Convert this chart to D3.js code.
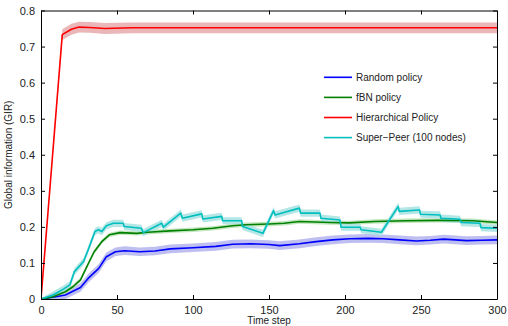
<!DOCTYPE html>
<meta charset="utf-8">
<html>
<head>
<style>
  body { margin: 0; background: #fff; }
  text { font-family: "Liberation Sans", Arial, sans-serif; }
</style>
</head>
<body>
<script src="https://d3js.org/d3.v7.min.js"></script>
<script>

// data (time step, GIR)
var randomPolicy = [[0,0],[8,0.005],[16,0.011],[26,0.032],[31,0.057],[38,0.085],[43,0.117],[49,0.131],[55,0.134],[65,0.131],[75,0.133],[85,0.139],[100,0.142],[115,0.146],[126,0.152],[138,0.153],[150,0.151],[157,0.148],[170,0.153],[181,0.159],[192,0.164],[203,0.167],[215,0.168],[225,0.167],[236,0.164],[247,0.161],[256,0.163],[265,0.166],[280,0.162],[290,0.163],[300,0.164]];
var fbnPolicy = [[0,0],[8,0.006],[16,0.02],[21,0.034],[26,0.053],[31,0.097],[35,0.131],[40,0.159],[45,0.178],[52,0.184],[63,0.182],[70,0.185],[85,0.189],[100,0.192],[113,0.196],[126,0.203],[135,0.206],[150,0.208],[160,0.21],[170,0.215],[190,0.212],[203,0.211],[219,0.215],[240,0.217],[262,0.218],[284,0.217],[300,0.212]];
var hierPolicy = [[0,0],[14,0.733],[20,0.748],[25,0.754],[32,0.753],[42,0.750],[60,0.752],[100,0.752],[150,0.752],[200,0.752],[250,0.752],[300,0.752]];
var superPeer = [[0,0],[8,0.011],[15,0.028],[19,0.039],[22,0.076],[28,0.104],[31,0.136],[35.5,0.187],[37.7,0.192],[40,0.187],[43,0.203],[47.6,0.21],[54,0.21],[54.8,0.201],[66,0.196],[67.3,0.184],[79.4,0.21],[80.5,0.199],[92,0.238],[93,0.224],[105.7,0.236],[106.5,0.222],[118.9,0.229],[119.5,0.217],[132,0.217],[132.6,0.201],[146,0.182],[153,0.245],[154,0.233],[170,0.252],[170.8,0.238],[183.5,0.238],[184.2,0.224],[196.7,0.219],[197.4,0.199],[210,0.199],[210.6,0.192],[224,0.185],[235,0.257],[235.7,0.243],[249,0.247],[249.7,0.235],[262.5,0.233],[263.2,0.224],[275.7,0.221],[276.4,0.212],[288.8,0.21],[289.5,0.198],[300,0.196]];

var seriesNames = ["Random policy", "fBN policy", "Hierarchical Policy", "Super\u2212Peer (100 nodes)"];
var seriesData = [randomPolicy, fbnPolicy, hierPolicy, superPeer];
var spreads = [0.012, 0.006, 0.015, 0.01];
var lineColors = ["#0000ff", "#008000", "#ff0000", "#00bfbf"];
var bandColors = ["#b3b3ee", "#b8e2b3", "#e6a9ab", "#a8e2e2"];

var xTicks = [0, 50, 100, 150, 200, 250, 300];
var yTicks = [0, 0.1, 0.2, 0.3, 0.4, 0.5, 0.6, 0.7, 0.8];

var margin = {top: 10.5, right: 11, bottom: 27, left: 41},
  width = 508 - margin.left - margin.right,
  height = 326 - margin.top - margin.bottom;

var svg = d3.select("body").append("svg")
  .attr("width", 508)
  .attr("height", 326)
  .append("g")
  .attr("transform", "translate(" + margin.left + "," + margin.top + ")");

var x = d3.scaleLinear().domain([0, 300]).range([0, width]);
var y = d3.scaleLinear().domain([0, 0.8]).range([height, 0]);

svg.append("defs").append("clipPath").attr("id", "clip")
  .append("rect").attr("width", width).attr("height", height);

var plot = svg.append("g").attr("clip-path", "url(#clip)");

var area = d3.area()
  .x(function(d) { return x(d[0]); })
  .y0(function(d, i) { return y(Math.max(0, d[1] - d.s)); })
  .y1(function(d) { return y(d[1] + d.s); });

var line = d3.line()
  .x(function(d) { return x(d[0]); })
  .y(function(d) { return y(d[1]); });

// shaded bands first, then lines
seriesData.forEach(function(s, i) {
  var pts = s.map(function(d, j) { var p = [d[0], d[1]]; p.s = j == 0 ? 0.002 : spreads[i]; return p; });
  plot.append("path")
    .attr("d", area(pts))
    .attr("fill", bandColors[i])
    .attr("opacity", 0.85);
});
seriesData.forEach(function(s, i) {
  plot.append("path")
    .attr("d", line(s))
    .attr("fill", "none")
    .attr("stroke", lineColors[i])
    .attr("stroke-width", 1.6)
    .attr("stroke-linejoin", "round");
});

// axes, MATLAB style box with inward ticks
var xAxis = d3.axisBottom(x).tickValues(xTicks).tickSizeInner(-4).tickSizeOuter(0).tickPadding(7).tickFormat(d3.format("d"));
var yAxis = d3.axisLeft(y).tickValues(yTicks).tickSizeInner(-4).tickSizeOuter(0).tickPadding(6).tickFormat(function(d) { return d == 0 ? "0" : d3.format(".1f")(d); });

var gx = svg.append("g").attr("transform", "translate(0," + height + ")").call(xAxis);
var gy = svg.append("g").call(yAxis);
svg.append("g").call(d3.axisTop(x).tickValues(xTicks).tickSizeInner(-4).tickSizeOuter(0).tickFormat(""));
svg.append("g").attr("transform", "translate(" + width + ",0)")
  .call(d3.axisRight(y).tickValues(yTicks).tickSizeInner(-4).tickSizeOuter(0).tickFormat(""));

svg.selectAll(".domain").attr("stroke", "#000").attr("stroke-width", 1);
svg.selectAll(".tick line").attr("stroke", "#000");
svg.selectAll(".tick text").style("font-size", "11px").attr("fill", "#222");

svg.append("text")
  .text("Time step")
  .attr("x", width / 2)
  .attr("y", height + 25)
  .style("text-anchor", "middle")
  .style("font-size", "10px")
  .attr("fill", "#222");

svg.append("text")
  .text("Global information (GIR)")
  .attr("transform", "rotate(-90)")
  .attr("x", -height / 2)
  .attr("y", -29)
  .style("text-anchor", "middle")
  .style("font-size", "10px")
  .attr("fill", "#222");

// legend
var legend = svg.selectAll(".legend")
  .data(seriesNames)
  .enter().append("g")
  .attr("class", "legend")
  .attr("transform", function(d, i) { return "translate(283," + (66.8 + i * 20.1) + ")"; });

legend.append("line")
  .attr("x1", 0).attr("x2", 28)
  .attr("stroke", function(d, i) { return lineColors[i]; })
  .attr("stroke-width", 1.6);

legend.append("text")
  .attr("x", 32)
  .attr("dy", "0.35em")
  .style("font-size", "10px")
  .attr("fill", "#222")
  .text(function(d) { return d; });

</script>
</body>
</html>
